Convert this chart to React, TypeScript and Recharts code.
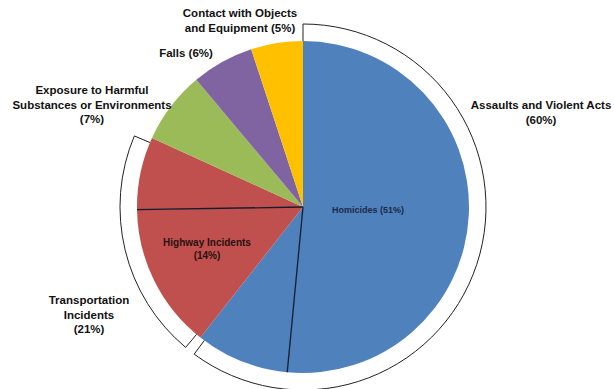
import React from 'react';
import { PieChart, Pie, Cell } from 'recharts';

// ---- data ----
const categories = [
  'Assaults and Violent Acts',
  'Transportation Incidents',
  'Exposure to Harmful Substances or Environments',
  'Falls',
  'Contact with Objects and Equipment',
];
const shares = [60, 21, 7, 6, 5];
const subCategories = ['Homicides', 'Highway Incidents'];
const subShares = [51, 14];
const subParent = [0, 1];

// ---- label text layout ----
const categoryLabelBreaks = [
  ['Assaults and Violent Acts'],
  ['Transportation', 'Incidents'],
  ['Exposure to Harmful', 'Substances or Environments'],
  ['Falls'],
  ['Contact with Objects', 'and Equipment'],
];
const categoryPctInline = [false, false, false, true, true];
const subLabelBreaks = [['Homicides'], ['Highway Incidents']];
const subPctInline = [true, false];

// ---- styles / positions ----
const colors = ['#4F81BD', '#C0504D', '#9BBB59', '#8064A2', '#FFC000'];
const bracketed = [true, true, false, false, false];
const outerLabelPos = [
  [541, 105],
  [89, 300],
  [92, 90],
  [186, 53],
  [240, 13],
];
const subLabelPos = [
  [368, 210],
  [207, 242],
];
const subLabelColor = ['#1c2a48', '#2a1010'];

const CX = 303;
const CY = 207;
const R = 166;
const BR = 183;
const GAP = 1.7;
const FONT = '"Liberation Sans", Arial, sans-serif';

const groupData = categories.map((name, i) => ({ name, value: shares[i] }));

type Slice = { name: string; value: number; parent: number; sub: number | null };
const slices: Slice[] = [];
categories.forEach((name, i) => {
  const si = subParent.indexOf(i);
  if (si >= 0) {
    slices.push({ name: subCategories[si], value: subShares[si], parent: i, sub: si });
    slices.push({ name: name + ' (other)', value: shares[i] - subShares[si], parent: i, sub: null });
  } else {
    slices.push({ name, value: shares[i], parent: i, sub: null });
  }
});

const polar = (cx: number, cy: number, r: number, a: number) => [
  cx + r * Math.cos((a * Math.PI) / 180),
  cy - r * Math.sin((a * Math.PI) / 180),
];

const buildLines = (breaks: string[], pct: number, inline: boolean) =>
  inline
    ? [...breaks.slice(0, -1), `${breaks[breaks.length - 1]} (${pct}%)`]
    : [...breaks, `(${pct}%)`];

const MultiText = ({ x, y, lines, size, color, lh }: any) => (
  <text
    x={x}
    y={y}
    textAnchor="middle"
    fontFamily={FONT}
    fontWeight="bold"
    fontSize={size}
    fill={color}
    dominantBaseline="central"
  >
    {lines.map((l: string, k: number) => (
      <tspan key={k} x={x} y={y + k * lh}>
        {l}
      </tspan>
    ))}
  </text>
);

const renderGroupLabel = (p: any) => {
  const i = p.index;
  const cx = p.cx;
  const cy = p.cy;
  let path = null;
  if (bracketed[i]) {
    const s = i === 0 ? p.startAngle : p.startAngle - GAP;
    const e = p.endAngle + GAP;
    const [x1, y1] = polar(cx, cy, R, s);
    const [x2, y2] = polar(cx, cy, BR, s);
    const [x3, y3] = polar(cx, cy, BR, e);
    const [x4, y4] = polar(cx, cy, R, e);
    const large = Math.abs(s - e) > 180 ? 1 : 0;
    path = (
      <path
        d={`M${x1},${y1} L${x2},${y2} A${BR},${BR} 0 ${large} 1 ${x3},${y3} L${x4},${y4}`}
        fill="none"
        stroke="#222"
        strokeWidth={1}
      />
    );
  }
  const [lx, ly] = outerLabelPos[i];
  return (
    <g key={`gl-${i}`}>
      {path}
      <MultiText
        x={lx}
        y={ly}
        lines={buildLines(categoryLabelBreaks[i], shares[i], categoryPctInline[i])}
        size={11.5}
        color="#111"
        lh={14.5}
      />
    </g>
  );
};

const renderSliceLabel = (p: any) => {
  const s = slices[p.index];
  if (s.sub === null) return <g key={`sl-${p.index}`} />;
  const [x2, y2] = polar(p.cx, p.cy, R, p.endAngle);
  const [lx, ly] = subLabelPos[s.sub];
  return (
    <g key={`sl-${p.index}`}>
      <line x1={p.cx} y1={p.cy} x2={x2} y2={y2} stroke="#141c30" strokeWidth={1.3} />
      <MultiText
        x={lx}
        y={ly}
        lines={buildLines(subLabelBreaks[s.sub], subShares[s.sub], subPctInline[s.sub])}
        size={s.sub === 0 ? 9 : 10}
        color={subLabelColor[s.sub]}
        lh={13}
      />
    </g>
  );
};

export default function App() {
  return (
    <div style={{ position: 'absolute', left: 0, top: 0, width: 614, height: 389, background: '#fff' }}>
      <PieChart width={614} height={389} margin={{ top: 0, right: 0, bottom: 0, left: 0 }}>
        <Pie
          data={slices}
          dataKey="value"
          cx={CX}
          cy={CY}
          outerRadius={R}
          innerRadius={0}
          startAngle={90}
          endAngle={-270}
          stroke="none"
          isAnimationActive={false}
          labelLine={false}
          label={renderSliceLabel}
        >
          {slices.map((s, i) => (
            <Cell key={i} fill={colors[s.parent]} stroke="none" />
          ))}
        </Pie>
        <Pie
          data={groupData}
          dataKey="value"
          cx={CX}
          cy={CY}
          innerRadius={R}
          outerRadius={BR}
          startAngle={90}
          endAngle={-270}
          stroke="none"
          fill="none"
          isAnimationActive={false}
          labelLine={false}
          label={renderGroupLabel}
        >
          {groupData.map((g, i) => (
            <Cell key={i} fill="none" stroke="none" />
          ))}
        </Pie>
      </PieChart>
    </div>
  );
}
